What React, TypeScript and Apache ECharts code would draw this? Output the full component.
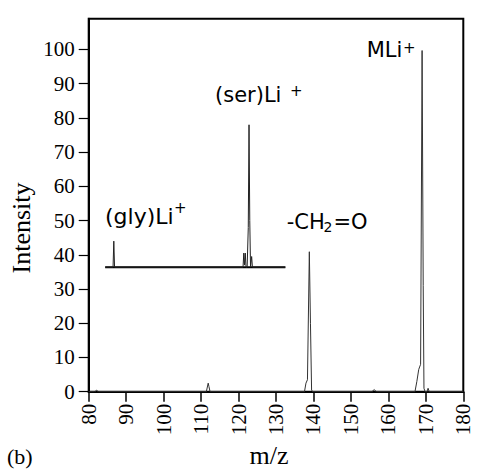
import React, { useEffect, useRef } from "react";
import * as echarts from "echarts";

// Main spectrum (m/z, relative intensity)
const spectrumMz = [80, 81.6, 82.1, 82.6, 111.4, 111.9, 112.1, 112.4, 137.6, 138.0, 138.4, 138.9, 139.2, 139.5, 139.8, 155.6, 156.2, 156.8, 167.1, 167.6, 168.1, 168.6, 169.0, 169.3, 169.5, 169.8, 170.3, 170.6, 170.9, 180];
const spectrumIntensity = [0, 0, 0.4, 0, 0, 2.5, 1.5, 0, 0, 2.5, 3.5, 40.9, 20, 0.5, 0, 0, 0.6, 0, 0, 3, 6.5, 8, 99.7, 31, 1, 0, 0, 1, 0, 0];

// Inset (expanded low-mass region), drawn on a raised baseline
const insetBaseline = 36.4;
const insetRange = [84.4, 132.5];
const insetMz = [84.4, 86.5, 86.7, 86.9, 121.2, 121.4, 121.6, 121.8, 122.0, 122.3, 122.6, 122.8, 123.0, 123.2, 123.5, 123.7, 132.5];
const insetIntensity = [36.4, 36.4, 44, 36.4, 36.4, 40.5, 37, 40.5, 36.4, 36.4, 48, 78, 50, 36.4, 39.5, 36.4, 36.4];

// Axis ticks
const yTicks = [0, 10, 20, 30, 40, 50, 60, 70, 80, 90, 100];
const xMin = 80;
const xMax = 180;
const xStep = 10;
const yMax = 109;

const SERIF = "'Liberation Serif', 'Times New Roman', serif";
const SANS = "'DejaVu Sans', sans-serif";

export default function App() {
  const ref = useRef<HTMLDivElement>(null);
  useEffect(() => {
    if (!ref.current) return;
    document.body.style.margin = "0";
    const chart = echarts.init(ref.current, undefined, { renderer: "svg" });
    const spectrum = spectrumMz.map((m, i) => [m, spectrumIntensity[i]]);
    const inset = insetMz.map((m, i) => [m, insetIntensity[i]]);
    const baseline = insetRange.map((m) => [m, insetBaseline]);

    const label = (text: string, x: number, y: number, size = 21) => ({
      type: "text",
      x,
      y,
      style: { text, fill: "#000", font: `${size}px ${SANS}`, textAlign: "left", textVerticalAlign: "middle" },
    });

    chart.setOption({
      animation: false,
      backgroundColor: "#fff",
      grid: {
        left: 88.7,
        top: 18.7,
        right: 15.7,
        bottom: 77.3,
        show: true,
        borderColor: "#000",
        borderWidth: 2,
        backgroundColor: "transparent",
      },
      xAxis: {
        type: "value",
        min: xMin,
        max: xMax,
        interval: xStep,
        axisLine: { show: true, lineStyle: { color: "#000", width: 2 } },
        axisTick: { show: true, inside: false, length: 10, lineStyle: { color: "#000", width: 1.5 } },
        axisLabel: { rotate: 90, margin: 12, color: "#000", fontFamily: SERIF, fontSize: 21, hideOverlap: false },
        splitLine: { show: false },
      },
      yAxis: {
        type: "value",
        min: 0,
        max: yMax,
        interval: 10,
        axisLine: { show: true, lineStyle: { color: "#000", width: 2 } },
        axisTick: { show: true, length: 10, customValues: yTicks, lineStyle: { color: "#000", width: 1.2 } },
        axisLabel: { margin: 14, color: "#000", fontFamily: SERIF, fontSize: 21, customValues: yTicks },
        splitLine: { show: false },
      },
      series: [
        {
          type: "line",
          data: spectrum,
          symbol: "none",
          lineStyle: { color: "#333", width: 1 },
          z: 3,
        },
        {
          type: "line",
          data: baseline,
          symbol: "none",
          lineStyle: { color: "#000", width: 2 },
          z: 4,
        },
        {
          type: "line",
          data: inset,
          symbol: "none",
          lineStyle: { color: "#222", width: 1 },
          z: 5,
        },
      ],
      graphic: [
        {
          type: "text",
          x: 21,
          y: 228,
          rotation: Math.PI / 2,
          style: { text: "Intensity", fill: "#000", font: `26px ${SERIF}`, textAlign: "center", textVerticalAlign: "middle" },
        },
        {
          type: "text",
          x: 269,
          y: 455,
          style: { text: "m/z", fill: "#000", font: `26px ${SERIF}`, textAlign: "center", textVerticalAlign: "middle" },
        },
        {
          type: "text",
          x: 7,
          y: 456,
          style: { text: "(b)", fill: "#000", font: `22px ${SERIF}`, textAlign: "left", textVerticalAlign: "middle" },
        },
        label("(gly)Li", 105, 216, 22),
        label("+", 174, 207.5, 15),
        label("(ser)Li", 215, 95),
        label("+", 290, 91, 15),
        label("MLi", 366.7, 50),
        label("+", 403, 47.5, 15),
        label("-CH", 286.7, 221.7),
        label("2", 323.5, 227, 14),
        label("=O", 333.5, 221.7),
      ],
    });
    return () => chart.dispose();
  }, []);
  return <div ref={ref} style={{ width: 479, height: 469 }} />;
}
